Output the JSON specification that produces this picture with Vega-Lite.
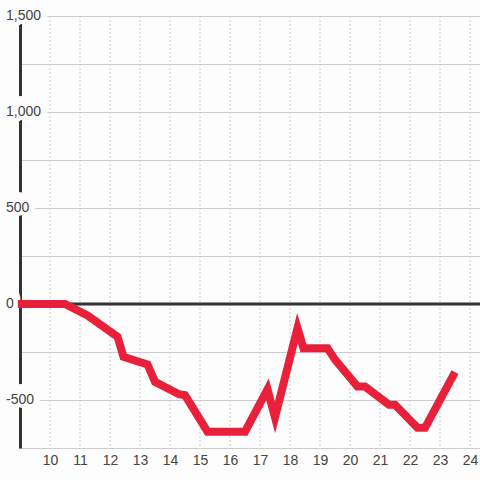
{
  "$schema": "https://vega.github.io/schema/vega-lite/v6.json",
  "width": 460,
  "height": 432,
  "autosize": {"type": "none"},
  "padding": {"left": 20, "top": 16, "right": 0, "bottom": 32},
  "background": "#fcfdfc",
  "config": {"view": {"stroke": null}, "font": "Liberation Sans"},
  "resolve": {"axis": {"x": "independent", "y": "independent"}},
  "datasets": {
    "series": [
      {"t": 8.93, "v": 0},
      {"t": 10.5, "v": 0},
      {"t": 11.25, "v": -60},
      {"t": 12.25, "v": -170},
      {"t": 12.45, "v": -275},
      {"t": 13.25, "v": -315},
      {"t": 13.5, "v": -405},
      {"t": 14.3, "v": -470},
      {"t": 14.5, "v": -475},
      {"t": 15.25, "v": -665},
      {"t": 16.5, "v": -665},
      {"t": 17.25, "v": -445},
      {"t": 17.5, "v": -590},
      {"t": 18.25, "v": -125},
      {"t": 18.45, "v": -230},
      {"t": 19.25, "v": -230},
      {"t": 19.5, "v": -290},
      {"t": 20.25, "v": -430},
      {"t": 20.5, "v": -430},
      {"t": 21.3, "v": -525},
      {"t": 21.5, "v": -525},
      {"t": 22.25, "v": -645},
      {"t": 22.5, "v": -645},
      {"t": 23.5, "v": -355}
    ],
    "xticks": [
      {"t": 10}, {"t": 11}, {"t": 12}, {"t": 13}, {"t": 14}, {"t": 15}, {"t": 16}, {"t": 17},
      {"t": 18}, {"t": 19}, {"t": 20}, {"t": 21}, {"t": 22}, {"t": 23}, {"t": 24}
    ],
    "ylabels": [
      {"v": 1500, "label": "1,500"},
      {"v": 1000, "label": "1,000"},
      {"v": 500, "label": "500"},
      {"v": 0, "label": "0"},
      {"v": -500, "label": "-500"}
    ],
    "zero": [{"v": 0}]
  },
  "layer": [
    {
      "data": {"name": "series"},
      "mark": {"type": "line", "color": "#e8203a", "strokeWidth": 8, "clip": false, "opacity": 0},
      "encoding": {
        "x": {"field": "t", "type": "quantitative", "title": null, "scale": {"domain": [9, 24.3333], "nice": false, "zero": false},
          "axis": {"values": [10, 11, 12, 13, 14, 15, 16, 17, 18, 19, 20, 21, 22, 23, 24], "title": null, "domain": false, "ticks": false, "tickSize": 0, "labelPadding": 5, "labelFontSize": 14, "labelColor": "#444444", "labelFont": "Liberation Sans", "labelFlush": false, "labelOverlap": false, "grid": false, "zindex": 0}},
        "y": {"field": "v", "type": "quantitative", "title": null, "scale": {"domain": [-750, 1500], "nice": false, "zero": false},
          "axis": {"values": [-750, -500, -250, 0, 250, 500, 750, 1000, 1250, 1500], "title": null, "labels": false, "ticks": false, "domain": true, "domainColor": "#333333", "domainWidth": 3, "grid": true, "gridColor": "#cccccc", "gridWidth": 1, "zindex": 0}}
      }
    },
    {
      "data": {"name": "xticks"},
      "mark": {"type": "rule", "color": "#cccccc", "strokeWidth": 1, "strokeDash": [2, 2]},
      "encoding": {
        "x": {"field": "t", "type": "quantitative", "axis": null}
      }
    },
    {
      "data": {"name": "ylabels"},
      "mark": {"type": "text", "align": "left", "baseline": "middle", "dx": -14, "dy": -3, "fontSize": 14, "fill": "#fcfdfc", "stroke": "#fcfdfc", "strokeWidth": 14, "strokeJoin": "round"},
      "encoding": {
        "x": {"datum": 9, "type": "quantitative", "axis": null},
        "y": {"field": "v", "type": "quantitative", "axis": null},
        "text": {"field": "label"}
      }
    },
    {
      "data": {"name": "ylabels"},
      "mark": {"type": "text", "align": "left", "baseline": "middle", "dx": -14, "fontSize": 14, "fill": "#444444"},
      "encoding": {
        "x": {"datum": 9, "type": "quantitative", "axis": null},
        "y": {"field": "v", "type": "quantitative", "axis": null},
        "text": {"field": "label"}
      }
    },
    {
      "data": {"name": "zero"},
      "mark": {"type": "rule", "color": "#333333", "strokeWidth": 3},
      "encoding": {
        "y": {"field": "v", "type": "quantitative", "axis": null}
      }
    },
    {
      "data": {"name": "series"},
      "mark": {"type": "line", "color": "#e8203a", "strokeWidth": 8, "strokeJoin": "miter", "strokeCap": "butt", "clip": false},
      "encoding": {
        "x": {"field": "t", "type": "quantitative", "axis": null},
        "y": {"field": "v", "type": "quantitative", "axis": null}
      }
    }
  ]
}
